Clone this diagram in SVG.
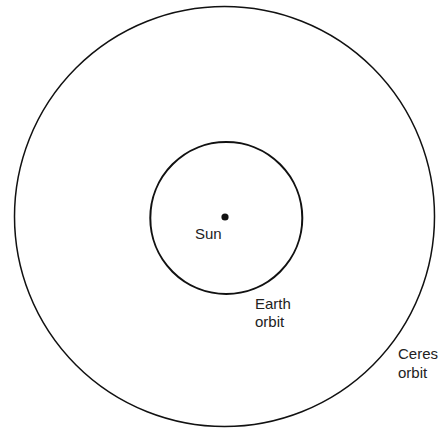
<svg xmlns="http://www.w3.org/2000/svg" width="441" height="428" viewBox="0 0 441 428">
<style>
.orbit{fill:none;stroke:#111;}
.lbl{font-family:"Liberation Sans",Arial,sans-serif;font-size:15px;fill:#222;}
</style>
<rect width="441" height="428" fill="#fff"/>
<g id="ceres-orbit">
<circle class="orbit" cx="224.5" cy="216.5" r="210" stroke-width="1.5"/>
<text class="lbl" x="398" y="359">Ceres</text>
<text class="lbl" x="398" y="378">orbit</text>
</g>
<g id="earth-orbit">
<circle class="orbit" cx="226.3" cy="218" r="76" stroke-width="2"/>
<text class="lbl" x="255" y="309">Earth</text>
<text class="lbl" x="255" y="327">orbit</text>
</g>
<g id="sun">
<circle cx="225" cy="217" r="3.6" fill="#111"/>
<text class="lbl" x="195" y="239">Sun</text>
</g>
</svg>
